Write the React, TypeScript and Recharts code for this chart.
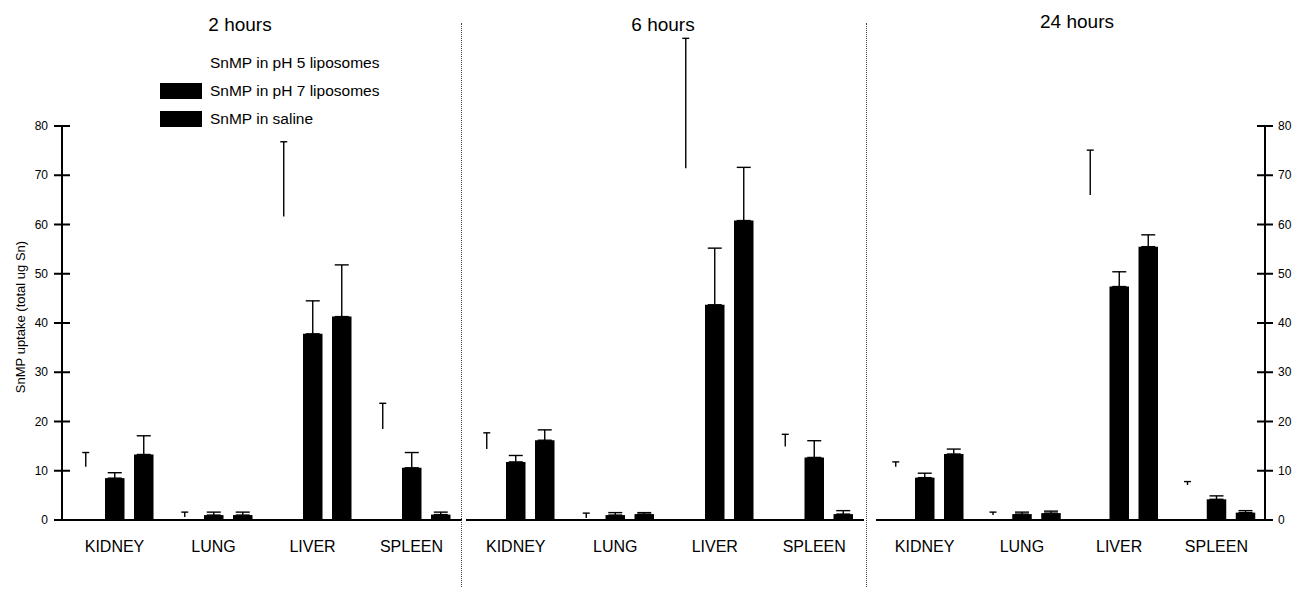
import { BarChart, Bar, XAxis, YAxis, ErrorBar, Legend } from "recharts";

const organs = ["KIDNEY", "LUNG", "LIVER", "SPLEEN"];
const timeLabels = ["2 hours", "6 hours", "24 hours"];
const seriesNames = [
  "SnMP in pH 5 liposomes",
  "SnMP in pH 7 liposomes",
  "SnMP in saline",
];
const yTicks = [0, 10, 20, 30, 40, 50, 60, 70, 80];

// 2 hours
const ph5Mean2h = [10.8, 0.6, 61.6, 18.5];
const ph5Sd2h = [2.9, 1.0, 15.2, 5.2];
const ph7Mean2h = [8.5, 1.0, 37.8, 10.6];
const ph7Sd2h = [1.1, 0.6, 6.7, 3.1];
const salineMean2h = [13.3, 1.0, 41.3, 1.1];
const salineSd2h = [3.8, 0.6, 10.5, 0.5];

// 6 hours
const ph5Mean6h = [14.4, 0.4, 71.4, 14.9];
const ph5Sd6h = [3.3, 1.0, 26.4, 2.5];
const ph7Mean6h = [11.8, 1.0, 43.7, 12.7];
const ph7Sd6h = [1.3, 0.5, 11.5, 3.4];
const salineMean6h = [16.2, 1.2, 60.8, 1.2];
const salineSd6h = [2.1, 0.3, 10.8, 0.7];

// 24 hours
const ph5Mean24h = [10.8, 1.0, 66.0, 7.1];
const ph5Sd24h = [1.0, 0.6, 9.1, 0.7];
const ph7Mean24h = [8.6, 1.2, 47.4, 4.2];
const ph7Sd24h = [0.9, 0.4, 3.0, 0.7];
const salineMean24h = [13.4, 1.4, 55.5, 1.5];
const salineSd24h = [1.0, 0.4, 2.4, 0.4];

const FONT = '"Liberation Sans", Arial, Helvetica, sans-serif';

// only the upper half of each error bar shows in the original
const buildData = (
  m5: number[], s5: number[],
  m7: number[], s7: number[],
  ms: number[], ss: number[]
) =>
  organs.map((organ, i) => ({
    organ,
    ph5: m5[i],
    ph5Sd: s5[i],
    ph7: m7[i],
    ph7Err: [0, s7[i]],
    saline: ms[i],
    salineErr: [0, ss[i]],
  }));

const data2h = buildData(ph5Mean2h, ph5Sd2h, ph7Mean2h, ph7Sd2h, salineMean2h, salineSd2h);
const data6h = buildData(ph5Mean6h, ph5Sd6h, ph7Mean6h, ph7Sd6h, salineMean6h, salineSd6h);
const data24h = buildData(ph5Mean24h, ph5Sd24h, ph7Mean24h, ph7Sd24h, salineMean24h, salineSd24h);

// white (invisible) bar: only the upper whisker with its cap is left on the page
const OpenBar = (props: any) => {
  const { x, y, width, height, payload } = props;
  if (!payload || !payload.ph5) return null;
  const perUnit = height / payload.ph5;
  const top = y - payload.ph5Sd * perUnit;
  const cx = x + width / 2;
  return (
    <g>
      <rect x={x} y={y} width={width} height={height} fill="#ffffff" />
      <line x1={cx} x2={cx} y1={y} y2={top} stroke="#000" strokeWidth={1.4} />
      <line x1={cx - 3.5} x2={cx + 3.5} y1={top} y2={top} stroke="#000" strokeWidth={1.4} />
    </g>
  );
};

const LeftTick = ({ x, y, payload }: any) => (
  <g>
    <line x1={x + 14} x2={x + 22} y1={y} y2={y} stroke="#000" strokeWidth={2} />
    <text x={x} y={y} textAnchor="end" dominantBaseline="central" fontSize={12} fontFamily={FONT} fill="#000">
      {payload.value}
    </text>
  </g>
);

const RightTick = ({ x, y, payload }: any) => (
  <g>
    <line x1={x - 21} x2={x - 13} y1={y} y2={y} stroke="#000" strokeWidth={2} />
    <text x={x} y={y} textAnchor="start" dominantBaseline="central" fontSize={12} fontFamily={FONT} fill="#000">
      {payload.value}
    </text>
  </g>
);

const YLabel = ({ viewBox }: any) => {
  const cx = viewBox.x + 20;
  const cy = viewBox.y + viewBox.height / 2 - 6;
  return (
    <text
      x={cx}
      y={cy}
      transform={`rotate(-90, ${cx}, ${cy})`}
      textAnchor="middle"
      dominantBaseline="central"
      fontSize={13}
      fontFamily={FONT}
      fill="#000"
    >
      SnMP uptake (total ug Sn)
    </text>
  );
};

const renderLegend = ({ payload }: any) => (
  <div style={{ fontFamily: FONT, fontSize: 15.5, color: "#000" }}>
    {(payload || []).map((entry: any) => (
      <div key={entry.value} style={{ display: "flex", alignItems: "center", height: 28 }}>
        <span
          style={{
            display: "inline-block",
            width: 42,
            height: 16,
            background: entry.color,
            marginRight: 8,
          }}
        />
        <span>{entry.value}</span>
      </div>
    ))}
  </div>
);

const Panel = ({
  data,
  left,
  width,
  margin,
  padding,
  axis,
  showLegend,
}: {
  data: any[];
  left: number;
  width: number;
  margin: { top: number; right: number; bottom: number; left: number };
  padding: { left: number; right: number };
  axis: "left" | "right" | "none";
  showLegend?: boolean;
}) => (
  <div style={{ position: "absolute", left, top: 0 }}>
    <BarChart width={width} height={590} data={data} margin={margin} barSize={19.5} barGap={9.5}>
      <XAxis
        dataKey="organ"
        height={70}
        padding={padding}
        tickLine={false}
        tickSize={6}
        tickMargin={15}
        axisLine={{ stroke: "#000", strokeWidth: 2 }}
        tick={{ fill: "#000", fontSize: 16, fontFamily: FONT }}
      />
      {axis === "left" && (
        <YAxis
          width={62}
          domain={[0, 80]}
          ticks={yTicks}
          interval={0}
          tickSize={8}
          tickMargin={6}
          axisLine={{ stroke: "#000", strokeWidth: 2 }}
          tickLine={{ stroke: "#000", strokeWidth: 2 }}
          tick={<LeftTick />}
          label={<YLabel />}
        />
      )}
      {axis === "right" && (
        <YAxis
          orientation="right"
          width={29}
          domain={[0, 80]}
          ticks={yTicks}
          interval={0}
          tickSize={8}
          tickMargin={5}
          axisLine={{ stroke: "#000", strokeWidth: 2 }}
          tickLine={{ stroke: "#000", strokeWidth: 2 }}
          tick={<RightTick />}
        />
      )}
      {axis === "none" && <YAxis hide domain={[0, 80]} />}
      {showLegend && (
        <Legend
          layout="vertical"
          align="center"
          verticalAlign="middle"
          wrapperStyle={{ left: 160, top: 49, width: 260 }}
          content={renderLegend}
        />
      )}
      <Bar dataKey="ph5" name={seriesNames[0]} fill="#ffffff" shape={<OpenBar />} isAnimationActive={false} />
      <Bar dataKey="ph7" name={seriesNames[1]} fill="#000000" isAnimationActive={false}>
        <ErrorBar dataKey="ph7Err" width={7} stroke="#000" strokeWidth={1.4} direction="y" />
      </Bar>
      <Bar dataKey="saline" name={seriesNames[2]} fill="#000000" isAnimationActive={false}>
        <ErrorBar dataKey="salineErr" width={7} stroke="#000" strokeWidth={1.4} direction="y" />
      </Bar>
    </BarChart>
  </div>
);

const titleStyle = (center: number, top: number): React.CSSProperties => ({
  position: "absolute",
  left: center - 100,
  top,
  width: 200,
  textAlign: "center",
  fontFamily: FONT,
  fontSize: 19,
  lineHeight: "20px",
  color: "#000",
});

const sepStyle = (x: number): React.CSSProperties => ({
  position: "absolute",
  left: x,
  top: 23,
  height: 564,
  width: 0,
  borderLeft: "1px dotted #444",
});

export default function App() {
  return (
    <div
      style={{
        position: "absolute",
        left: 0,
        top: 0,
        width: 1294,
        height: 590,
        background: "#fff",
        fontFamily: FONT,
        overflow: "hidden",
      }}
    >
      <Panel data={data2h} left={0} width={462} margin={{ top: 126, right: 0, bottom: 0, left: 0 }} padding={{ left: 3, right: 1 }} axis="left" showLegend />
      <Panel data={data6h} left={462} width={405} margin={{ top: 126, right: 3, bottom: 0, left: 4 }} padding={{ left: 0, right: 0 }} axis="none" />
      <Panel data={data24h} left={867} width={427} margin={{ top: 126, right: 0, bottom: 0, left: 9 }} padding={{ left: 0, right: 0 }} axis="right" />
      <div style={sepStyle(461)} />
      <div style={sepStyle(866)} />
      <div style={titleStyle(240, 15)}>{timeLabels[0]}</div>
      <div style={titleStyle(663, 15)}>{timeLabels[1]}</div>
      <div style={titleStyle(1077, 12)}>{timeLabels[2]}</div>
    </div>
  );
}
